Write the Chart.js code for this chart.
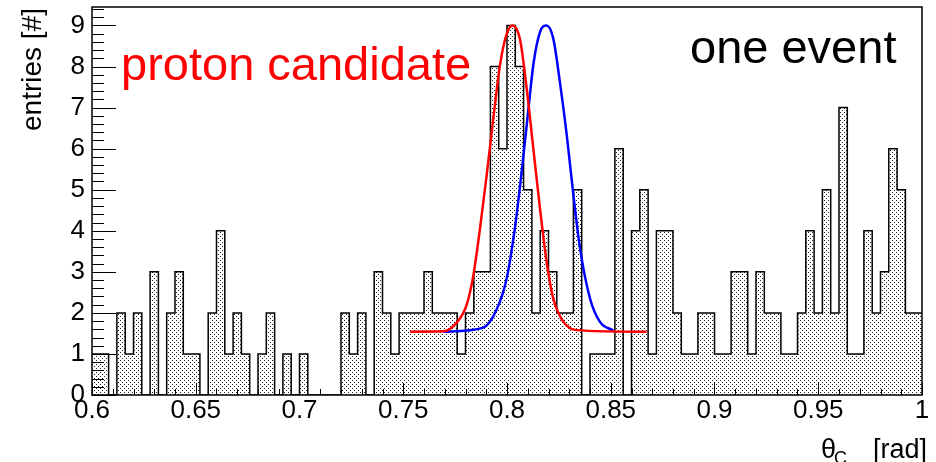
<!DOCTYPE html>
<html>
<head>
<meta charset="utf-8">
<script src="https://cdn.jsdelivr.net/npm/chart.js@4.4.1/dist/chart.umd.min.js"></script>
<style>
  html, body { margin: 0; padding: 0; background: #fff; }
  #wrap { width: 936px; height: 462px; }
</style>
</head>
<body>
<div id="wrap"><canvas id="chart" width="936" height="462"></canvas></div>
<script>
// ===== Data =====
const X_MIN = 0.6;
const X_MAX = 1.0;
const BIN_WIDTH = 0.004;

// entries per bin, 100 bins from 0.6 to 1.0
const binCounts = [
  1, 1, 0, 2, 1, 2, 0, 3, 0, 2,   // 0.600 - 0.640
  3, 1, 1, 0, 2, 4, 1, 2, 1, 0,   // 0.640 - 0.680
  1, 2, 0, 1, 0, 1, 0, 0, 0, 0,   // 0.680 - 0.720
  2, 1, 2, 0, 3, 2, 1, 2, 2, 2,   // 0.720 - 0.760
  3, 2, 2, 2, 1, 2, 3, 3, 8, 6,   // 0.760 - 0.800
  9, 8, 5, 2, 4, 3, 2, 2, 5, 0,   // 0.800 - 0.840
  1, 1, 1, 6, 0, 4, 5, 1, 4, 4,   // 0.840 - 0.880
  2, 1, 1, 2, 2, 1, 1, 3, 3, 1,   // 0.880 - 0.920
  3, 2, 2, 1, 1, 2, 4, 2, 5, 2,   // 0.920 - 0.960
  7, 1, 1, 4, 2, 3, 6, 5, 2, 2    // 0.960 - 1.000
];

// red fit curve (proton candidate)
const redTheta   = [0.7533, 0.7693, 0.7757, 0.7806, 0.7838, 0.7870, 0.7902, 0.7934, 0.7966, 0.7999,
                    0.8027, 0.8063, 0.8095, 0.8127, 0.8159, 0.8191, 0.8223, 0.8272, 0.8336, 0.8673];
const redEntries = [1.54, 1.55, 1.76, 2.2, 2.92, 4.06, 5.35, 6.73, 8.03, 8.80,
                    9.00, 8.65, 7.46, 6.00, 4.54, 3.24, 2.35, 1.78, 1.58, 1.54];

// blue fit curve
const blueTheta   = [0.7693, 0.7886, 0.7950, 0.7999, 0.8039, 0.8071, 0.8103, 0.8127, 0.8159, 0.8191,
                     0.8223, 0.8255, 0.8288, 0.8320, 0.8352, 0.8400, 0.8448, 0.8512];
const blueEntries = [1.54, 1.64, 2.08, 2.85, 4.10, 5.45, 6.95, 8.05, 8.84, 9.00,
                     8.68, 7.62, 6.33, 4.87, 3.57, 2.35, 1.78, 1.57];

const xTicks = [0.6, 0.65, 0.7, 0.75, 0.8, 0.85, 0.9, 0.95, 1.0];
const xTickLabels = ["0.6", "0.65", "0.7", "0.75", "0.8", "0.85", "0.9", "0.95", "1"];
const yTicks = [0, 1, 2, 3, 4, 5, 6, 7, 8, 9];
const Y_MAX = 9.45;

const FONT = '"Liberation Sans", Arimo, Arial, sans-serif';

// ===== Helpers =====
function makeDotPattern() {
  const c = document.createElement("canvas");
  c.width = 4;
  c.height = 4;
  const g = c.getContext("2d");
  g.fillStyle = "#222";
  g.fillRect(0, 0, 1, 1);
  g.fillRect(2, 2, 1, 1);
  return g.createPattern(c, "repeat");
}

function histPoints() {
  const pts = binCounts.map((v, i) => ({ x: X_MIN + i * BIN_WIDTH, y: v }));
  pts.push({ x: X_MAX, y: binCounts[binCounts.length - 1] });
  return pts;
}

function zip(xs, ys) {
  return xs.map((x, i) => ({ x, y: ys[i] }));
}

function noScalePadding(s) {
  s.paddingTop = 0;
  s.paddingBottom = 0;
  s.paddingLeft = 0;
  s.paddingRight = 0;
}

// ROOT style frame, inner ticks and labels
const rootFrame = {
  id: "rootFrame",
  afterDraw(chart) {
    const { ctx, chartArea: a, scales } = chart;
    const xs = scales.x, ys = scales.y;
    ctx.save();
    ctx.strokeStyle = "#000";
    ctx.lineWidth = 1;

    ctx.beginPath();
    // x ticks: major 0.05, minor 0.01
    for (let k = 0; k <= 40; k++) {
      const v = X_MIN + k * 0.01;
      const px = Math.round(xs.getPixelForValue(v)) + 0.5;
      const len = k % 5 === 0 ? 12 : 6;
      ctx.moveTo(px, a.bottom);
      ctx.lineTo(px, a.bottom - len);
    }
    // y ticks: major 1, minor 0.2
    for (let k = 0; k * 0.2 <= Y_MAX; k++) {
      const v = k * 0.2;
      const py = Math.round(ys.getPixelForValue(v)) + 0.5;
      const len = k % 5 === 0 ? 24 : 12;
      ctx.moveTo(a.left, py);
      ctx.lineTo(a.left + len, py);
    }
    ctx.stroke();

    ctx.lineWidth = 1.5;
    ctx.strokeRect(a.left, a.top, a.right - a.left, a.bottom - a.top);

    // annotations
    ctx.textBaseline = "alphabetic";
    ctx.textAlign = "left";
    ctx.font = "47px " + FONT;
    ctx.fillStyle = "#ff0000";
    ctx.fillText("proton candidate", 121, 80);
    ctx.fillStyle = "#000";
    ctx.fillText("one event", 690, 63);

    // x axis title with subscript
    ctx.font = "27px " + FONT;
    ctx.textAlign = "right";
    ctx.fillText("[rad]", 927, 458);
    ctx.textAlign = "left";
    ctx.fillText("\u03b8", 821, 458);
    ctx.font = "18px " + FONT;
    ctx.fillText("C", 834, 464);

    // y axis title
    ctx.save();
    ctx.translate(41, 8);
    ctx.rotate(-Math.PI / 2);
    ctx.font = "28px " + FONT;
    ctx.textAlign = "right";
    ctx.fillText("entries [#]", 0, 0);
    ctx.restore();

    ctx.restore();
  }
};

// ===== Chart =====
const ctx = document.getElementById("chart").getContext("2d");
new Chart(ctx, {
  type: "line",
  data: {
    datasets: [
      {
        label: "proton fit",
        data: zip(redTheta, redEntries),
        borderColor: "#ff0000",
        borderWidth: 2.5,
        pointRadius: 0,
        fill: false,
        cubicInterpolationMode: "monotone",
        order: 0
      },
      {
        label: "other fit",
        data: zip(blueTheta, blueEntries),
        borderColor: "#0000ff",
        borderWidth: 2.5,
        pointRadius: 0,
        fill: false,
        cubicInterpolationMode: "monotone",
        order: 1
      },
      {
        label: "entries",
        data: histPoints(),
        stepped: "before",
        borderColor: "#000",
        borderWidth: 1.5,
        backgroundColor: makeDotPattern(),
        fill: "origin",
        pointRadius: 0,
        order: 2
      }
    ]
  },
  options: {
    responsive: false,
    animation: false,
    layout: { padding: { top: 7, right: 14, left: 0, bottom: 0 } },
    plugins: {
      legend: { display: false },
      tooltip: { enabled: false }
    },
    scales: {
      x: {
        type: "linear",
        min: X_MIN,
        max: X_MAX,
        afterBuildTicks: s => { s.ticks = xTicks.map(v => ({ value: v })); },
        afterFit: s => { s.height = 67; noScalePadding(s); },
        grid: { display: false, drawTicks: false },
        border: { display: false },
        ticks: {
          autoSkip: false,
          maxRotation: 0,
          padding: 0,
          color: "#000",
          font: { family: FONT, size: 26 },
          callback: (v, i) => xTickLabels[i]
        }
      },
      y: {
        type: "linear",
        min: 0,
        max: Y_MAX,
        afterBuildTicks: s => { s.ticks = yTicks.map(v => ({ value: v })); },
        afterFit: s => { s.width = 92; noScalePadding(s); },
        grid: { display: false, drawTicks: false },
        border: { display: false },
        ticks: {
          autoSkip: false,
          padding: 7,
          color: "#000",
          font: { family: FONT, size: 26 },
          callback: v => String(v)
        }
      }
    }
  },
  plugins: [rootFrame]
});
</script>
</body>
</html>
